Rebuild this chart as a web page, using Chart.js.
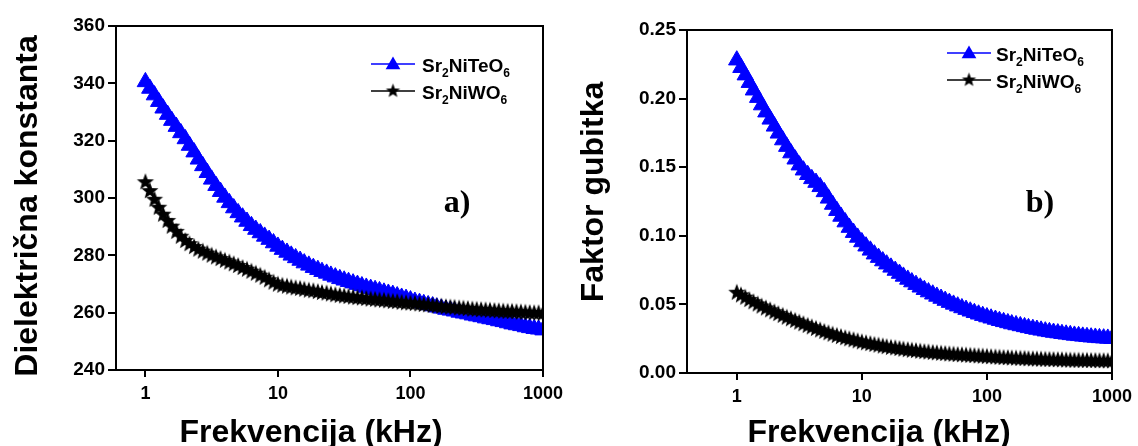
<!DOCTYPE html>
<html lang="sr">
<head>
<meta charset="UTF-8" />
<title>Dielektrična konstanta i faktor gubitka</title>
<script src="https://cdn.jsdelivr.net/npm/chart.js"></script>
<style>
  body { margin: 0; background: #fff; }
  .wrap { position: relative; width: 1138px; height: 446px; }
  #left { position: absolute; left: 0; top: 0; }
  #right { position: absolute; left: 574px; top: 0; }
</style>
</head>
<body>
<div class="wrap">
  <canvas id="left" width="580" height="446"></canvas>
  <canvas id="right" width="564" height="446"></canvas>
</div>
<script>
// frequency (kHz), 30 points per decade
const freq = [1, 1.08, 1.17, 1.26, 1.36, 1.47, 1.58, 1.71, 1.85, 2, 2.15, 2.33, 2.51, 2.71, 2.93, 3.16, 3.41, 3.69, 3.98, 4.30, 4.64, 5.01, 5.41, 5.84, 6.31, 6.81, 7.36, 7.94, 8.58, 9.26,
  10, 10.8, 11.7, 12.6, 13.6, 14.7, 15.8, 17.1, 18.5, 20, 21.5, 23.3, 25.1, 27.1, 29.3, 31.6, 34.1, 36.9, 39.8, 43.0, 46.4, 50.1, 54.1, 58.4, 63.1, 68.1, 73.6, 79.4, 85.8, 92.6,
  100, 108, 117, 126, 136, 147, 158, 171, 185, 200, 215, 233, 251, 271, 293, 316, 341, 369, 398, 430, 464, 501, 541, 584, 631, 681, 736, 794, 858, 926, 1000];
const freqTicks = [1, 10, 100, 1000];

// dielectric constant
const epsTe = [340.5, 338.2, 335.9, 333.6, 331.3, 329.1, 327.0, 324.9, 322.7, 320.6, 318.3, 316.0, 313.5, 311.2, 308.8, 306.5, 304.3, 302.2, 300.2, 298.3,
  296.5, 294.8, 293.3, 291.8, 290.3, 289.0, 287.8, 286.6, 285.5, 284.3, 283.1, 282.0, 281.0, 280.0, 279.1, 278.2, 277.3, 276.5, 275.7, 275.0,
  274.3, 273.7, 273.0, 272.4, 271.8, 271.3, 270.8, 270.3, 269.8, 269.3, 268.8, 268.4, 268.0, 267.6, 267.1, 266.7, 266.3, 265.8, 265.3, 264.9,
  264.4, 263.9, 263.5, 263.1, 262.7, 262.3, 261.9, 261.5, 261.1, 260.8, 260.5, 260.1, 259.8, 259.5, 259.1, 258.8, 258.5, 258.1, 257.8, 257.5,
  257.1, 256.8, 256.4, 256.0, 255.7, 255.4, 255.0, 254.7, 254.4, 254.2, 253.9];
const epsW = [305.5, 302.4, 299.4, 296.6, 294.2, 292.0, 290.0, 288.2, 286.5, 285.0, 283.9, 282.9, 282.0, 281.3, 280.6, 279.9, 279.3, 278.7, 278.1, 277.5,
  276.9, 276.3, 275.6, 275.0, 274.3, 273.6, 272.9, 272.2, 271.3, 270.5, 269.8, 269.4, 269.1, 268.8, 268.5, 268.3, 268.0, 267.7, 267.5, 267.2,
  266.9, 266.7, 266.4, 266.1, 265.9, 265.7, 265.5, 265.3, 265.1, 265.0, 264.8, 264.6, 264.5, 264.3, 264.2, 264.0, 263.8, 263.7, 263.5, 263.3,
  263.2, 263.1, 262.9, 262.7, 262.6, 262.4, 262.2, 262.1, 261.9, 261.8, 261.7, 261.5, 261.4, 261.3, 261.1, 261.0, 260.9, 260.8, 260.7, 260.6,
  260.5, 260.4, 260.3, 260.3, 260.2, 260.1, 260.0, 259.9, 259.8, 259.8, 259.7];
const epsTicks = [240, 260, 280, 300, 320, 340, 360];

// loss factor
const lossTe = [0.2280, 0.2225, 0.2171, 0.2116, 0.2061, 0.2007, 0.1953, 0.1901, 0.1849, 0.1798, 0.1747, 0.1698, 0.1650, 0.1603, 0.1558, 0.1515, 0.1478, 0.1445, 0.1415, 0.1388,
  0.1357, 0.1320, 0.1273, 0.1228, 0.1183, 0.1141, 0.1100, 0.1060, 0.1023, 0.0988, 0.0955, 0.0924, 0.0894, 0.0866, 0.0841, 0.0816, 0.0793, 0.0770, 0.0747, 0.0725,
  0.0704, 0.0682, 0.0663, 0.0644, 0.0625, 0.0607, 0.0590, 0.0574, 0.0558, 0.0543, 0.0528, 0.0513, 0.0500, 0.0487, 0.0474, 0.0462, 0.0450, 0.0439, 0.0428, 0.0418,
  0.0408, 0.0399, 0.0390, 0.0381, 0.0373, 0.0365, 0.0357, 0.0350, 0.0343, 0.0336, 0.0329, 0.0323, 0.0317, 0.0311, 0.0305, 0.0300, 0.0295, 0.0291, 0.0286, 0.0282,
  0.0278, 0.0274, 0.0271, 0.0267, 0.0264, 0.0261, 0.0259, 0.0256, 0.0254, 0.0252, 0.0250];
const lossW = [0.0585, 0.0566, 0.0549, 0.0532, 0.0516, 0.0500, 0.0485, 0.0471, 0.0457, 0.0443, 0.0430, 0.0417, 0.0404, 0.0392, 0.0380, 0.0368, 0.0356, 0.0344, 0.0333, 0.0322,
  0.0311, 0.0300, 0.0290, 0.0280, 0.0271, 0.0262, 0.0254, 0.0246, 0.0239, 0.0231, 0.0224, 0.0217, 0.0211, 0.0205, 0.0200, 0.0194, 0.0189, 0.0184, 0.0180, 0.0175,
  0.0171, 0.0167, 0.0163, 0.0160, 0.0156, 0.0153, 0.0150, 0.0147, 0.0144, 0.0141, 0.0139, 0.0136, 0.0134, 0.0132, 0.0130, 0.0128, 0.0126, 0.0124, 0.0122, 0.0120,
  0.0118, 0.0116, 0.0114, 0.0112, 0.0110, 0.0109, 0.0107, 0.0106, 0.0104, 0.0103, 0.0101, 0.0100, 0.0099, 0.0098, 0.0097, 0.0096, 0.0095, 0.0094, 0.0093, 0.0092,
  0.0091, 0.0090, 0.0090, 0.0089, 0.0089, 0.0088, 0.0088, 0.0087, 0.0087, 0.0086, 0.0086];
const lossTicks = [0, 0.05, 0.10, 0.15, 0.20, 0.25];

const seriesNames = [['Sr', '2', 'NiTeO', '6'], ['Sr', '2', 'NiWO', '6']];
const xTitle = 'Frekvencija (kHz)';
const BLUE = '#0000ff';
const FONT = '"Liberation Sans", Arial, sans-serif';

function makeStar(r, color) {
  const c = document.createElement('canvas');
  c.width = c.height = Math.ceil(r * 2 + 2);
  const g = c.getContext('2d');
  const m = c.width / 2;
  g.beginPath();
  for (let i = 0; i < 10; i++) {
    const rr = i % 2 ? r * 0.42 : r;
    const a = -Math.PI / 2 + i * Math.PI / 5;
    g.lineTo(m + rr * Math.cos(a), m + rr * Math.sin(a));
  }
  g.closePath();
  g.fillStyle = color;
  g.fill();
  return c;
}
const star = makeStar(9, '#000');
const smallStar = makeStar(7.5, '#000');

function tri(ctx, x, y, r) {
  ctx.beginPath();
  ctx.moveTo(x, y - r);
  ctx.lineTo(x + r * 0.866, y + r * 0.5);
  ctx.lineTo(x - r * 0.866, y + r * 0.5);
  ctx.closePath();
  ctx.fill();
}

// frame on top/right, axis titles, legend with subscripts, panel letter
const decor = {
  id: 'decor',
  afterDraw(chart, args, o) {
    const ctx = chart.ctx;
    const a = chart.chartArea;
    ctx.save();
    ctx.strokeStyle = '#000';
    ctx.lineWidth = 2;
    ctx.strokeRect(a.left, a.top, a.right - a.left, a.bottom - a.top);

    ctx.fillStyle = '#000';
    ctx.font = 'bold 32px ' + FONT;
    ctx.textAlign = 'center';
    ctx.textBaseline = 'alphabetic';
    ctx.fillText(xTitle, o.xTitleX, 442);
    ctx.save();
    ctx.translate(o.yTitleX, o.yTitleY);
    ctx.rotate(-Math.PI / 2);
    ctx.fillText(o.yTitle, 0, 0);
    ctx.restore();

    seriesNames.forEach((parts, i) => {
      const y = o.rows[i];
      const color = i === 0 ? BLUE : '#000';
      ctx.strokeStyle = color;
      ctx.lineWidth = 1.5;
      ctx.beginPath();
      ctx.moveTo(o.lineX, y);
      ctx.lineTo(o.lineX + 44, y);
      ctx.stroke();
      ctx.fillStyle = color;
      if (i === 0) tri(ctx, o.lineX + 22, y + 1, 8.5);
      else ctx.drawImage(smallStar, o.lineX + 22 - smallStar.width / 2, y - smallStar.height / 2);

      let x = o.textX;
      ctx.fillStyle = '#000';
      ctx.textAlign = 'left';
      parts.forEach((p, j) => {
        const sub = j % 2 === 1;
        ctx.font = 'bold ' + (sub ? 12 : 19) + 'px ' + FONT;
        ctx.fillText(p, x, y + (sub ? 13 : 7.5));
        x += ctx.measureText(p).width;
      });
    });

    ctx.font = 'bold 32px "Liberation Serif", "Times New Roman", serif';
    ctx.textAlign = 'center';
    ctx.fillStyle = '#000';
    ctx.fillText(o.letter, o.letterX, o.letterY);
    ctx.restore();
  }
};

function makeChart(id, cfg) {
  return new Chart(document.getElementById(id), {
    type: 'line',
    data: {
      datasets: [
        { data: freq.map((f, i) => ({ x: f, y: cfg.black[i] })), borderColor: '#000', borderWidth: 1,
          pointStyle: star, pointRadius: 9 },
        { data: freq.map((f, i) => ({ x: f, y: cfg.blue[i] })), borderColor: BLUE, backgroundColor: BLUE, borderWidth: 1,
          pointStyle: 'triangle', pointRadius: 9.5, pointBackgroundColor: BLUE, pointBorderColor: BLUE, pointBorderWidth: 1 }
      ]
    },
    options: {
      responsive: false,
      animation: false,
      events: [],
      layout: { padding: cfg.pad },
      plugins: { legend: { display: false }, tooltip: { enabled: false }, decor: cfg.decor },
      scales: {
        x: {
          type: 'logarithmic',
          min: cfg.xmin,
          max: 1000,
          afterBuildTicks: s => { s.ticks = freqTicks.map(v => ({ value: v })); },
          afterFit: s => { s.height = cfg.xh; },
          border: { color: '#000', width: 2 },
          grid: { drawOnChartArea: false, color: '#000', lineWidth: 2, tickLength: 7 },
          ticks: { color: '#000', padding: 6, maxRotation: 0, autoSkip: false,
                   font: { family: FONT, size: 18, weight: 'bold' }, callback: v => String(v) }
        },
        y: {
          min: cfg.yTicks[0],
          max: cfg.yTicks[cfg.yTicks.length - 1],
          afterBuildTicks: s => { s.ticks = cfg.yTicks.map(v => ({ value: v })); },
          afterFit: s => { s.width = cfg.yw; },
          border: { color: '#000', width: 2 },
          grid: { drawOnChartArea: false, color: '#000', lineWidth: 2, tickLength: 8 },
          ticks: { color: '#000', padding: 3, font: { family: FONT, size: 19, weight: 'bold' }, callback: cfg.fmt }
        }
      }
    },
    plugins: [decor]
  });
}

makeChart('left', {
  blue: epsTe, black: epsW, xmin: 0.6, yTicks: epsTicks, fmt: v => String(v),
  yw: 116, xh: 76,
  pad: { left: 0, top: 26, right: 37, bottom: 0 },
  decor: { lineX: 371, textX: 422, rows: [64, 91], letter: 'a)', letterX: 457, letterY: 212,
           xTitleX: 311, yTitle: 'Dielektrična konstanta', yTitleX: 37, yTitleY: 206 }
});

makeChart('right', {
  blue: lossTe, black: lossW, xmin: 0.4, yTicks: lossTicks, fmt: v => v.toFixed(2),
  yw: 113, xh: 73,
  pad: { left: 0, top: 30, right: 25, bottom: 0 },
  decor: { lineX: 373, textX: 422, rows: [53, 80], letter: 'b)', letterX: 466, letterY: 212,
           xTitleX: 305, yTitle: 'Faktor gubitka', yTitleX: 29, yTitleY: 192 }
});
</script>
</body>
</html>
